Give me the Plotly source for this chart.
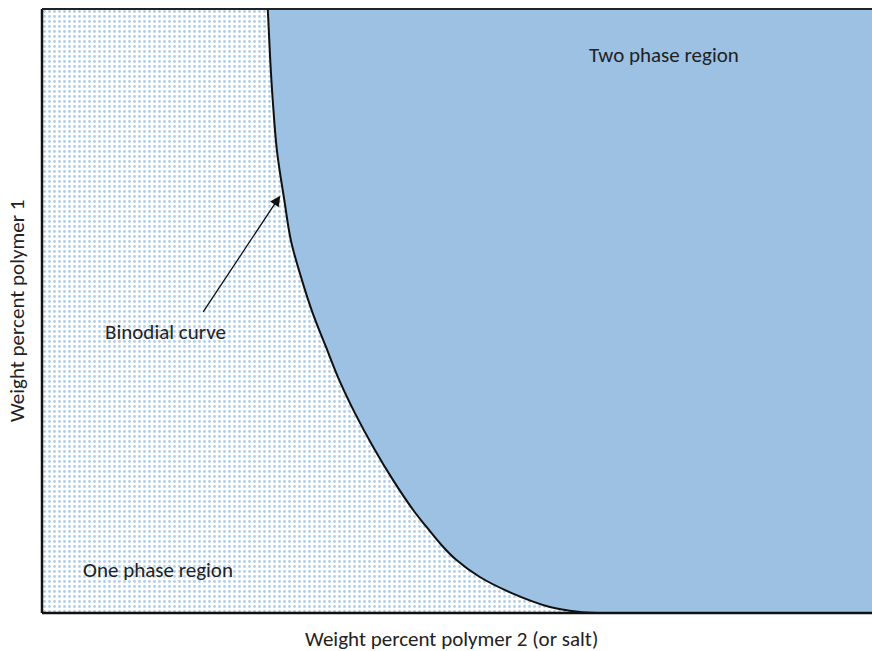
import plotly.graph_objects as go

# Binodial curve (weight % polymer 2, weight % polymer 1)
curve_x = [27.2, 27.5, 27.8, 28.3, 29.2, 30.0, 31.3, 32.6, 34.2, 35.8, 37.7,
           39.9, 42.3, 44.7, 46.3, 48.1, 49.9, 52.7, 56.6, 61.2, 64.6, 66.9]
curve_y = [100, 91.5, 84.9, 76.6, 68.3, 61.6, 55.2, 49.7, 44.1, 38.6, 33.1,
           27.5, 22.0, 17.1, 14.3, 11.3, 8.8, 6.0, 3.3, 1.0, 0.2, 0]

x_range = [0, 100]
y_range = [0, 100]

# Labels
region_labels = ["Two phase region", "One phase region", "Binodial curve"]
label_x = [74.9, 14.0, 14.9]
label_y = [92.4, 7.1, 46.6]

# Arrow (head, tail)
arrow_head = (28.7, 69.1)
arrow_tail = (19.3, 49.6)

x_title = "Weight percent polymer 2 (or salt)"
y_title = "Weight percent polymer 1"

FONT = "Carlito, Calibri, Lato, sans-serif"
FS = 21
BLUE = "#9DC1E3"
DOT = "#5B9BD5"

fig = go.Figure()

# one-phase region: dotted pattern across whole area
fig.add_trace(go.Scatter(
    x=[x_range[0], x_range[1], x_range[1], x_range[0], x_range[0]],
    y=[y_range[0], y_range[0], y_range[1], y_range[1], y_range[0]],
    mode="none", fill="toself", fillcolor="white",
    fillpattern=dict(shape=".", fgcolor=DOT, bgcolor="white", size=5, solidity=0.25),
    hoverinfo="skip", showlegend=False))

# two-phase region (corners repeated so the spline keeps them sharp)
poly_x = [curve_x[0]] + curve_x + [curve_x[-1], x_range[1], x_range[1], x_range[1], x_range[1],
                                   curve_x[0], curve_x[0]]
poly_y = [curve_y[0]] + curve_y + [curve_y[-1], y_range[0], y_range[0], y_range[1], y_range[1],
                                   curve_y[0], curve_y[0]]
fig.add_trace(go.Scatter(
    x=poly_x, y=poly_y, mode="lines", fill="toself", fillcolor=BLUE,
    line=dict(shape="spline", smoothing=1.0, width=0, color=BLUE),
    hoverinfo="skip", showlegend=False))

# binodial curve
fig.add_trace(go.Scatter(
    x=curve_x, y=curve_y, mode="lines",
    line=dict(color="#111111", width=2, shape="spline", smoothing=1.0),
    hoverinfo="skip", showlegend=False))

annotations = []
for t, x, y in zip(region_labels, label_x, label_y):
    annotations.append(dict(x=x, y=y, xref="x", yref="y", text=t, showarrow=False,
                            xanchor="center", yanchor="middle",
                            font=dict(family=FONT, size=FS, color="#222222")))
annotations.append(dict(x=arrow_head[0], y=arrow_head[1], ax=arrow_tail[0], ay=arrow_tail[1],
                        xref="x", yref="y", axref="x", ayref="y", text="",
                        showarrow=True, arrowhead=2, arrowsize=1.6, arrowwidth=1.3,
                        arrowcolor="#111111"))
annotations.append(dict(x=0.493, y=-0.043, xref="paper", yref="paper", text=x_title,
                        xanchor="center", yanchor="middle", height=22, valign="middle",
                        showarrow=False, font=dict(family=FONT, size=FS, color="#222222")))
annotations.append(dict(x=-0.030, y=0.5, xref="paper", yref="paper", text=y_title,
                        xanchor="center", yanchor="middle",
                        textangle=-90, showarrow=False,
                        font=dict(family=FONT, size=FS, color="#222222")))

shapes = [
    dict(type="line", xref="paper", yref="paper", x0=0, x1=0, y0=0, y1=1,
         line=dict(color="#111111", width=2.5)),
    dict(type="line", xref="paper", yref="paper", x0=0, x1=1, y0=1, y1=1,
         line=dict(color="#222222", width=2)),
    dict(type="line", xref="paper", yref="paper", x0=0, x1=1, y0=0, y1=0,
         line=dict(color="#111111", width=2.5)),
]

fig.update_layout(
    width=872, height=651,
    margin=dict(l=42, r=0, t=9, b=38),
    paper_bgcolor="white", plot_bgcolor="white",
    xaxis=dict(range=x_range, visible=False, fixedrange=True),
    yaxis=dict(range=y_range, visible=False, fixedrange=True),
    annotations=annotations, shapes=shapes,
)

fig.write_html("out.html", config={"displayModeBar": False},
               post_script="document.body.style.margin='0';document.body.style.overflow='hidden';")
